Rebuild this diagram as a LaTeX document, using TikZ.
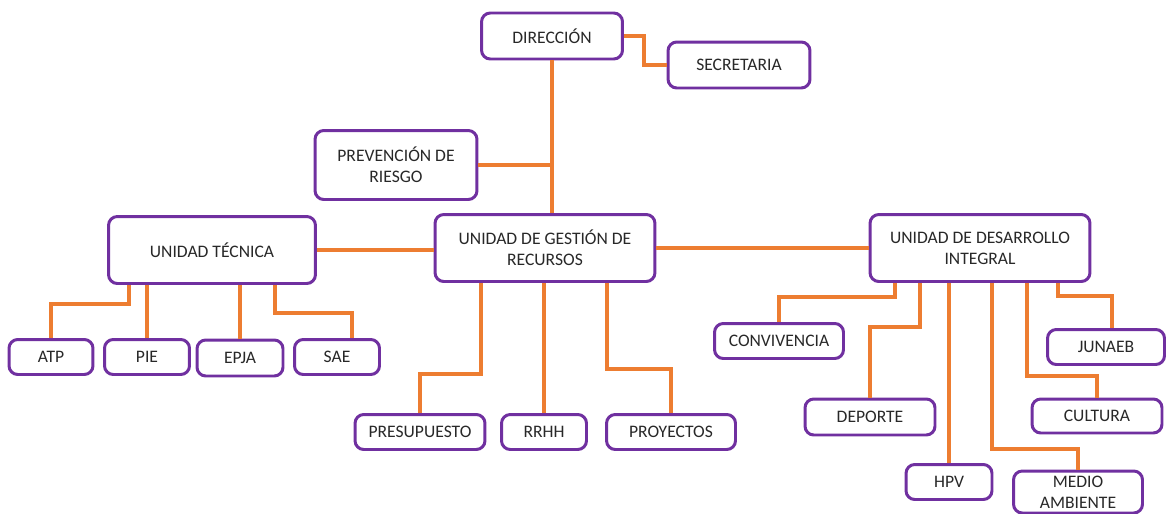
\documentclass[tikz,border=0pt]{standalone}
\usepackage{fontspec}
\setmainfont{Carlito}
\usepackage{tikz}
\usetikzlibrary{positioning}
\definecolor{boxpurple}{RGB}{112,48,160}
\definecolor{lineorange}{RGB}{237,125,49}
\definecolor{labelgray}{RGB}{40,40,40}

\begin{document}
\begin{tikzpicture}[x=0.02cm,y=-0.02cm,semithick]
\tikzstyle{unit}=[draw=boxpurple,line width=1.7pt,rounded corners=5pt,fill=white,align=center,inner sep=2pt,text=labelgray]
\tikzstyle{link}=[draw=lineorange,line width=2.1pt]
\tikzset{font=\fontsize{10pt}{12}\selectfont}

        \useasboundingbox (0,0) rectangle (1167,514);

        \node[unit,minimum width=2.82cm,minimum height=0.92cm]     (dir)   at (552,36)    {DIRECCIÓN};
        \node[unit,minimum width=2.84cm,minimum height=0.92cm]     (sec)   at (739,65)    {SECRETARIA};
        \node[unit,minimum width=3.24cm,minimum height=1.38cm]     (prev)  at (396,165)   {PREVENCIÓN DE\\RIESGO};
        \node[unit,minimum width=4.40cm,minimum height=1.34cm]     (ugr)   at (545,248)   {UNIDAD DE GESTIÓN DE\\RECURSOS};
        \node[unit,minimum width=4.14cm,minimum height=1.34cm]     (ut)    at (212,250)   {UNIDAD TÉCNICA};
        \node[unit,minimum width=4.40cm,minimum height=1.34cm]     (udi)   at (980,248)   {UNIDAD DE DESARROLLO\\INTEGRAL};

        \node[unit,minimum width=1.68cm,minimum height=0.70cm]     (atp)   at (51,357)    {ATP};
        \node[unit,minimum width=1.70cm,minimum height=0.70cm]     (pie)   at (147,357)   {PIE};
        \node[unit,minimum width=1.72cm,minimum height=0.72cm]     (epja)  at (240,358)   {EPJA};
        \node[unit,minimum width=1.70cm,minimum height=0.70cm]     (sae)   at (337,357)   {SAE};

        \node[unit,minimum width=2.60cm,minimum height=0.70cm]     (pres)  at (420,432)   {PRESUPUESTO};
        \node[unit,minimum width=1.70cm,minimum height=0.70cm]     (rrhh)  at (544,432)   {RRHH};
        \node[unit,minimum width=2.58cm,minimum height=0.70cm]     (proy)  at (671,432)   {PROYECTOS};

        \node[unit,minimum width=2.58cm,minimum height=0.70cm]     (conv)  at (779,341)   {CONVIVENCIA};
        \node[unit,minimum width=2.60cm,minimum height=0.72cm]     (dep)   at (870,417)   {DEPORTE};
        \node[unit,minimum width=1.72cm,minimum height=0.70cm]     (hpv)   at (949,482)   {HPV};
        \node[unit,minimum width=2.58cm,minimum height=0.84cm]     (medio) at (1078,492)  {MEDIO\\AMBIENTE};
        \node[unit,minimum width=2.60cm,minimum height=0.68cm]     (cult)  at (1097,416)  {CULTURA};
        \node[unit,minimum width=2.34cm,minimum height=0.70cm]     (jun)   at (1106,347)  {JUNAEB};

        % top part
        \draw[link] (dir.east) -- ++(20,0) |- (sec.west);
        \draw[link] (dir.south) -- (dir.south |- ugr.north);
        \draw[link] (prev.east) -- (prev.east -| dir.south);
        \draw[link] (ut.east) -- (ut.east -| ugr.west);
        \draw[link] (ugr.east) -- (udi.west);

        % unidad tecnica
        \draw[link] ([shift={(-83,0)}]ut.south) -- ++(0,19) -| (atp.north);
        \draw[link] (pie.north) -- (pie.north |- ut.south);
        \draw[link] (epja.north) -- (epja.north |- ut.south);
        \draw[link] ([shift={(63,0)}]ut.south) -- ++(0,28) -| ([shift={(15,0)}]sae.north);

        % gestion de recursos
        \draw[link] ([shift={(-64,0)}]ugr.south) -- ++(0,91) -| (pres.north);
        \draw[link] (rrhh.north) -- (rrhh.north |- ugr.south);
        \draw[link] ([shift={(62,0)}]ugr.south) -- ++(0,86) -| (proy.north);

        % desarrollo integral
        \draw[link] ([shift={(-85,0)}]udi.south) -- ++(0,14) -| (conv.north);
        \draw[link] ([shift={(-60,0)}]udi.south) -- ++(0,44) -| (dep.north);
        \draw[link] (hpv.north) -- (hpv.north |- udi.south);
        \draw[link] ([shift={(12,0)}]udi.south) -- ++(0,166) -| (medio.north);
        \draw[link] ([shift={(47,0)}]udi.south) -- ++(0,93) -| (cult.north);
        \draw[link] ([shift={(78,0)}]udi.south) -- ++(0,13) -| ([shift={(6,0)}]jun.north);

\end{tikzpicture}
\end{document}
